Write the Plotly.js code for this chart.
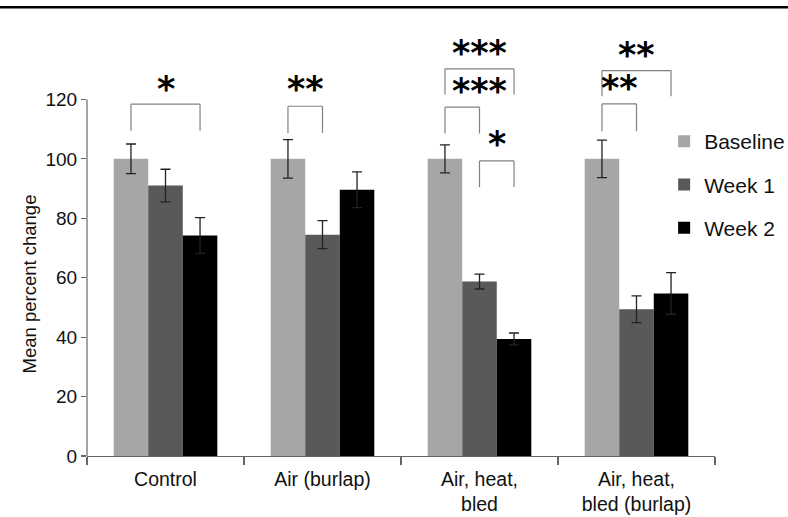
<!DOCTYPE html>
<html>
<head>
<meta charset="utf-8">
<script src="https://cdn.plot.ly/plotly-3.0.1.min.js"></script>
<style>
  html, body { margin: 0; padding: 0; background: #fff; }
  #chart { width: 788px; height: 517px; }
</style>
</head>
<body>
<div id="chart"></div>
<script>
// ---- data ----
const categories = ['Control', 'Air (burlap)', 'Air, heat,<br>bled', 'Air, heat,<br>bled (burlap)'];
const seriesNames = ['Baseline', 'Week 1', 'Week 2'];
const baseline = [100, 100, 100, 100];
const baselineErr = [5, 6.5, 4.7, 6.3];
const week1 = [91, 74.5, 58.7, 49.4];
const week1Err = [5.5, 4.7, 2.5, 4.5];
const week2 = [74.2, 89.6, 39.4, 54.7];
const week2Err = [6, 6, 2, 7];
const yTicks = [0, 20, 40, 60, 80, 100, 120];

// significance brackets (category, from series, to series, top, foot)
const bracketCat = [0, 1, 2, 2, 2, 3, 3];
const bracketFrom = [0, 0, 0, 0, 1, 0, 0];
const bracketTo = [2, 1, 2, 1, 2, 2, 1];
const bracketTop = [118.4, 117.7, 130.3, 117.4, 99.3, 129.7, 118.5];
const bracketFoot = [109.5, 108.7, 121.7, 108.5, 90.5, 121.1, 109.3];
// significance stars (category, position in series units, y)
const starText = ['*', '**', '***', '***', '*', '**', '**'];
const starCat = [0, 1, 2, 2, 2, 3, 3];
const starPos = [1, 0.5, 1, 1, 1.5, 1, 0.5];
const starY = [123.5, 123.5, 135.6, 122.8, 104.9, 134.8, 124];

// ---- styling ----
const colors = ['#a6a6a6', '#595959', '#000000'];
const bargap = 0.34;
const barW = (1 - bargap) / 3;
const FONT = 'Liberation Sans, Arial, sans-serif';

const values = [baseline, week1, week2];
const errs = [baselineErr, week1Err, week2Err];
const traces = values.map((v, i) => ({
  type: 'bar',
  name: seriesNames[i],
  x: categories,
  y: v,
  legendgroup: 'g' + i,
  marker: { color: colors[i], line: { width: 0 } },
  error_y: { type: 'data', array: errs[i], visible: true, color: '#222', thickness: 1.3, width: 5 },
  hoverinfo: 'skip'
}));

const xOf = (cat, s) => cat + (s - 1) * barW;
const shapes = [];
const lineStyle = { color: '#808080', width: 1.2 };
for (let k = 0; k < bracketCat.length; k++) {
  const x1 = xOf(bracketCat[k], bracketFrom[k]);
  const x2 = xOf(bracketCat[k], bracketTo[k]);
  shapes.push({ type: 'line', xref: 'x', yref: 'y', x0: x1, x1: x1, y0: bracketFoot[k], y1: bracketTop[k], line: lineStyle });
  shapes.push({ type: 'line', xref: 'x', yref: 'y', x0: x1, x1: x2, y0: bracketTop[k], y1: bracketTop[k], line: lineStyle });
  shapes.push({ type: 'line', xref: 'x', yref: 'y', x0: x2, x1: x2, y0: bracketFoot[k], y1: bracketTop[k], line: lineStyle });
}
// y axis line only from 0 to 120
shapes.push({ type: 'line', xref: 'paper', yref: 'y', x0: 0, x1: 0, y0: yTicks[0], y1: yTicks[yTicks.length - 1], line: { color: '#666', width: 1.2 } });
// rule at top of figure
shapes.push({ type: 'line', xref: 'paper', yref: 'paper', x0: -0.14, x1: 1.12, y0: 1.079, y1: 1.079, line: { color: '#000', width: 2.5 } });

const annotations = starText.map((t, k) => ({
  text: t, xref: 'x', yref: 'y', x: xOf(starCat[k], starPos[k]), y: starY[k],
  showarrow: false, xanchor: 'center', yanchor: 'middle',
  font: { family: 'DejaVu Sans', size: 35, color: '#000', weight: 'bold' }
}));
annotations.push({
  text: 'Mean percent change', xref: 'paper', yref: 'y', x: -0.091, y: 58,
  textangle: -90, showarrow: false, xanchor: 'center', yanchor: 'middle',
  font: { family: FONT, size: 18.5, color: '#111' }
});

const layout = {
  width: 788, height: 517,
  margin: { l: 87, r: 73, t: 40, b: 61, autoexpand: false },
  paper_bgcolor: '#fff', plot_bgcolor: '#fff',
  barmode: 'group', bargap: bargap, bargroupgap: 0,
  font: { family: FONT, size: 18, color: '#111' },
  xaxis: {
    type: 'category', showline: true, linecolor: '#666', linewidth: 1.2,
    ticks: 'outside', tickson: 'boundaries', ticklen: 8, tickcolor: '#666', tickwidth: 1.2,
    ticklabelstandoff: 5,
    showgrid: false, zeroline: false, fixedrange: true,
    tickfont: { family: FONT, size: 19.5, color: '#111' }
  },
  yaxis: {
    range: [0, 140], tickvals: yTicks, ticktext: yTicks.map(String),
    showline: false, ticks: 'outside', ticklen: 5, tickcolor: '#666', tickwidth: 1.2,
    showgrid: false, zeroline: false, fixedrange: true,
    tickfont: { family: FONT, size: 19, color: '#111' }
  },
  showlegend: true,
  legend: {
    x: 0.919, xanchor: 'left', y: 0.805, yanchor: 'top',
    bgcolor: 'rgba(0,0,0,0)', font: { family: FONT, size: 21, color: '#111' },
    traceorder: 'grouped', tracegroupgap: 13
  },
  shapes: shapes,
  annotations: annotations
};

Plotly.newPlot('chart', traces, layout, { staticPlot: true, displayModeBar: false });
</script>
</body>
</html>
